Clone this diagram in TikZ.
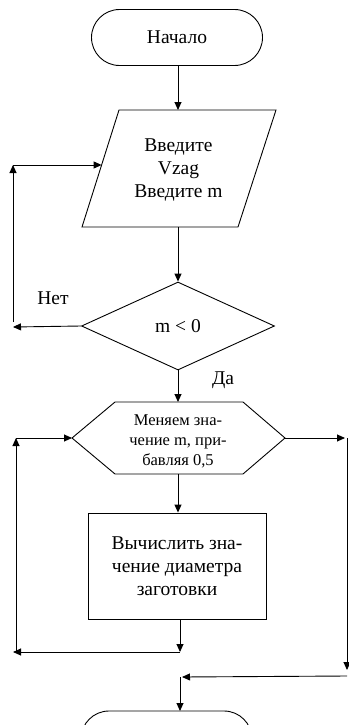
\documentclass[tikz,border=0pt]{standalone}
\usepackage{fontspec}
\setmainfont{Liberation Serif}
\usetikzlibrary{arrows.meta,shapes.geometric}
\begin{document}
\begin{tikzpicture}[x=1pt,y=-1pt,
  line width=0.9pt,
  flow/.style={-{Triangle[length=8pt,width=7pt]}},
  term/.style={draw,rounded corners=28pt,minimum width=171pt,minimum height=56pt,inner sep=0pt},
  bigtxt/.style={font=\fontsize{19.5}{23}\selectfont,align=center,inner sep=0pt},
  smalltxt/.style={font=\fontsize{16.5}{20}\selectfont,align=center,inner sep=0pt},
  decision/.style={draw,diamond,minimum width=193pt,minimum height=88pt,inner sep=0pt,bigtxt},
  process/.style={draw,rectangle,minimum width=178pt,minimum height=106pt,bigtxt}
]
\useasboundingbox (0,0) rectangle (348,725);

% start terminator
\node[term,bigtxt,minimum width=171pt,minimum height=56pt] (start) at (177,37.5) {Начало};

% input (parallelogram)
\coordinate (ioTL) at (119,110);
\coordinate (ioTR) at (276,110);
\coordinate (ioBR) at (238,227);
\coordinate (ioBL) at (82,227);
\draw (ioTL) -- (ioTR) -- (ioBR) -- (ioBL) -- cycle;
\node[bigtxt] (io) at (178.5,170) {Введите\\Vzag\\Введите m};
\coordinate (ioTop) at (178,110);
\coordinate (ioBot) at (178,227);
\coordinate (ioLeft) at (101.6,165);

% decision
\node[decision] (dec) at (178,326) {m < 0};
\node[bigtxt] (no) at (53,298) {Нет};
\node[bigtxt] (yes) at (223,380) {Да};

% loop (hexagon)
\coordinate (hxTL) at (115,402);
\coordinate (hxTR) at (243,402);
\coordinate (hxR) at (285,438);
\coordinate (hxBR) at (243,474);
\coordinate (hxBL) at (115,474);
\coordinate (hxL) at (72,438);
\draw (hxTL) -- (hxTR) -- (hxR) -- (hxBR) -- (hxBL) -- (hxL) -- cycle;
\node[smalltxt] (loop) at (178,441) {Меняем зна-\\чение m, при-\\бавляя 0,5};
\coordinate (hxTop) at (178,402);
\coordinate (hxBot) at (178,474);

% process
\node[process] (calc) at (177,566) {Вычислить зна-\\чение диаметра\\заготовки};

% end terminator
\node[term] (stop) at (166.5,739) {};

% routing points
\coordinate (nA) at (13,327);
\coordinate (nB) at (13,322);
\coordinate (nC) at (13,165);
\coordinate (lA) at (180,652);
\coordinate (lB) at (13,652);
\coordinate (lC) at (16,652);
\coordinate (lD) at (16,438);
\coordinate (rA) at (345,438);
\coordinate (rB) at (347,438);
\coordinate (rC) at (347,670);
\coordinate (rD) at (347,676);
\coordinate (rE) at (182,677);
\coordinate (rF) at (180,677);
\coordinate (stopTop) at (180,711);

% connectors
\draw[flow] (start.south -| ioTop) -- (ioTop);
\draw[flow] (ioBot) -- (dec.north);
\draw[flow] (dec.west) -- (nA);
\draw[flow] (nB) -- (nC);
\draw[flow] (nC) -- (ioLeft);
\draw[flow] (dec.south) -- (hxTop);
\draw[flow] (hxBot) -- (calc.north -| hxBot);
\draw[flow] (calc.south -| lA) -- (lA);
\draw[flow] (lA) -- (lB);
\draw[flow] (lC) -- (lD);
\draw[flow] (lD) -- (hxL);
\draw[flow] (hxR) -- (rA);
\draw[flow] (rB) -- (rC);
\draw[flow] (rD) -- (rE);
\draw[flow] (rF) -- (stopTop);
\end{tikzpicture}
\end{document}
